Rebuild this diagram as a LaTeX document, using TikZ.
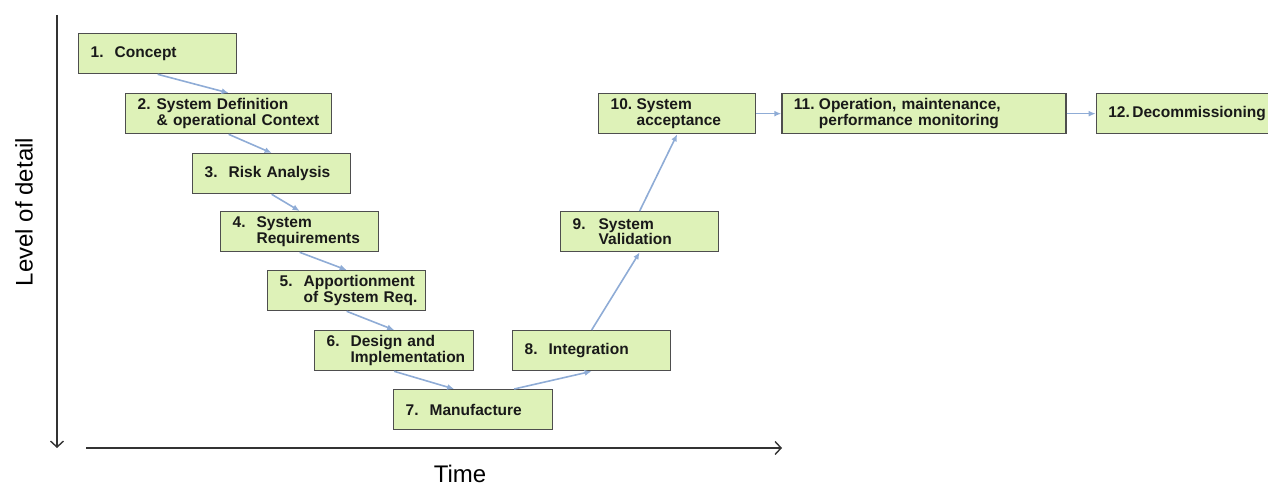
\documentclass[tikz,border=0pt]{standalone}
\usepackage{fontspec}
\setmainfont{Liberation Sans}
\usepackage{xcolor}
\usepackage{tikz}
\usetikzlibrary{arrows.meta,positioning}
\tikzset{>=Latex}
\definecolor{boxgreen}{RGB}{222,242,184}
\definecolor{boxframe}{RGB}{78,78,78}
\definecolor{flowblue}{RGB}{143,172,214}
\newcommand{\stepno}[2][24pt]{\makebox[#1][l]{#2}}
\newcommand{\stepgap}[1][24pt]{\hspace*{#1}}

\begin{document}
\begin{tikzpicture}[x=1pt,y=-1pt,
stepbox/.style={rectangle, align=left, draw=boxframe, fill=boxgreen, line width=1.3pt, text width=#1, minimum height=40pt, inner xsep=12pt, inner ysep=2pt, anchor=north west, text=black!90, font=\bfseries\fontsize{15.5}{15.5}\selectfont},
stepbox/.default=134pt,
flow/.style={draw=flowblue, line width=1.6pt, -{Latex[length=7pt,width=6pt]}},
axis/.style={draw=black!80, line width=1.4pt, -{Straight Barb[length=6pt,width=13pt]}},
axislabel/.style={inner sep=0pt, font=\fontsize{24}{24}\selectfont},
]
\useasboundingbox (0,0) rectangle (1268,486);

%Nodes
\node[stepbox](Concept) at (78,33){\stepno{1.}Concept};
\node[stepbox=182pt](Definition) at (125,93){\stepno[19pt]{2.}System Definition\\\stepgap[19pt]\mbox{\& operational Context}};
\node[stepbox](Risk) at (192,153){\stepno{3.}Risk Analysis};
\node[stepbox](Requirements) at (220,211){\stepno{4.}System\\\stepgap Requirements};
\node[stepbox](Apportionment) at (267,270){\stepno{5.}\mbox{Apportionment}\\\stepgap\mbox{of System Req.}};
\node[stepbox=135pt](Design) at (314,330){\stepno{6.}Design and\\\stepgap\mbox{Implementation}};
\node[stepbox=135pt](Manufacture) at (393,389){\stepno{7.}Manufacture};
\node[stepbox](Integration) at (512,330){\stepno{8.}Integration};
\node[stepbox](Validation) at (560,211){\stepno[26pt]{9.}System\\\stepgap[26pt]Validation};
\node[stepbox=133pt](Acceptance) at (598,93){\stepno[26pt]{10.}System\\\stepgap[26pt]acceptance};
\node[stepbox=260pt](Operation)[right=25pt of Acceptance]{\stepno[25pt]{11.}Operation, maintenance,\\\stepgap[25pt]performance monitoring};
\node[stepbox=152pt](Decommissioning)[right=29pt of Operation]{\mbox{12.\,Decommissioning}};

%Axes
\coordinate (DetailTop) at (57,15);
\coordinate (DetailEnd) at (57,448);
\coordinate (TimeStart) at (86,448);
\coordinate (TimeEnd) at (782,448);
\node[axislabel, rotate=90](DetailLabel) at (24,212){Level of detail};
\node[axislabel](TimeLabel) at (460,474){Time};

%Lines
\draw[flow] (Concept.south) -- (Definition.north);
\draw[flow] (Definition.south) -- (Risk.north);
\draw[flow] (Risk.south) -- (Requirements.north);
\draw[flow] (Requirements.south) -- (Apportionment.north);
\draw[flow] (Apportionment.south) -- (Design.north);
\draw[flow] (Design.south) -- ([xshift=-19pt]Manufacture.north);
\draw[flow] ([xshift=41pt]Manufacture.north) -- (Integration.south);
\draw[flow] (Integration.north) -- (Validation.south);
\draw[flow] (Validation.north) -- (Acceptance.south);
\draw[flow] (Acceptance) -- (Operation);
\draw[flow] (Operation) -- (Decommissioning);
\draw[axis] (DetailTop) -- (DetailEnd);
\draw[axis] (TimeStart) -- (TimeEnd);
\end{tikzpicture}
\end{document}
